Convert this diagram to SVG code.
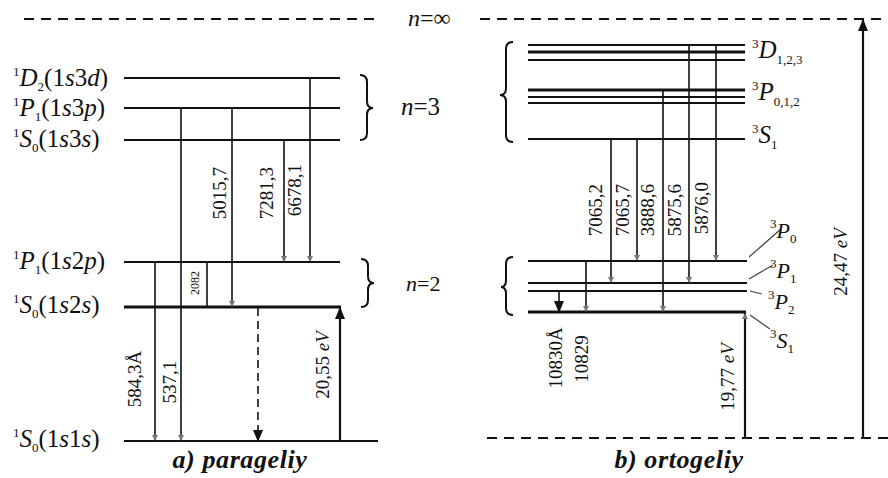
<svg xmlns="http://www.w3.org/2000/svg" width="888" height="478" viewBox="0 0 888 478">
<style>
text{font-family:"Liberation Serif","Times New Roman",serif;fill:#111}
.lab{font-size:25px}
.lab2{font-size:22px}
.it{font-style:italic}
.sup{font-size:13px}
.sub{font-size:13px}
.num{font-size:19px;text-anchor:middle}
.cap{font-size:26px;font-style:italic;font-weight:bold;text-anchor:middle;letter-spacing:0.6px}
.lvl{stroke:#111;stroke-width:2.2;fill:none}
.lvlb{stroke:#111;stroke-width:2.8;fill:none}
.tr{stroke:#111;stroke-width:1.6;fill:none}
.en{stroke:#111;stroke-width:2.2;fill:none}
.dash{stroke:#111;stroke-width:2.2;stroke-dasharray:10 7;fill:none}
.br{stroke:#111;stroke-width:2;fill:none}
.ld{stroke:#444;stroke-width:1.2;fill:none}
</style>
<defs>
<marker id="sm" markerUnits="userSpaceOnUse" markerWidth="7" markerHeight="7" refX="6" refY="3.5" orient="auto"><path d="M0,0.5 L6,3.5 L0,6.5 z" fill="#777"/></marker>
<marker id="big" markerUnits="userSpaceOnUse" markerWidth="12" markerHeight="10" refX="11" refY="5" orient="auto"><path d="M0,0 L12,5 L0,10 z" fill="#111"/></marker>
</defs>

<g id="limits">
<path class="dash" d="M24,19 H380"/>
<text x="408" y="26" class="lab" style="font-size:24px"><tspan class="it">n</tspan>=∞</text>
<path class="dash" d="M480,19 H888"/>
<path class="dash" d="M487,438 H888"/>
</g>

<g id="para-1D2"><path class="lvl" d="M124,78 H340"/>
<text x="13" y="86" class="lab"><tspan class="sup" dy="-10">1</tspan><tspan class="it" dy="10">D</tspan><tspan class="sub" dy="5">2</tspan><tspan dy="-5">(1</tspan><tspan class="it">s</tspan>3<tspan class="it">d</tspan>)</text></g>
<g id="para-1P1-3p"><path class="lvl" d="M124,108 H340"/>
<text x="13" y="116" class="lab"><tspan class="sup" dy="-10">1</tspan><tspan class="it" dy="10">P</tspan><tspan class="sub" dy="5">1</tspan><tspan dy="-5">(1</tspan><tspan class="it">s</tspan>3<tspan class="it">p</tspan>)</text></g>
<g id="para-1S0-3s"><path class="lvl" d="M124,140 H340"/>
<text x="13" y="147" class="lab"><tspan class="sup" dy="-10">1</tspan><tspan class="it" dy="10">S</tspan><tspan class="sub" dy="5">0</tspan><tspan dy="-5">(1</tspan><tspan class="it">s</tspan>3<tspan class="it">s</tspan>)</text></g>
<g id="para-1P1-2p"><path class="lvl" d="M124,262 H340"/>
<text x="13" y="269" class="lab"><tspan class="sup" dy="-10">1</tspan><tspan class="it" dy="10">P</tspan><tspan class="sub" dy="5">1</tspan><tspan dy="-5">(1</tspan><tspan class="it">s</tspan>2<tspan class="it">p</tspan>)</text></g>
<g id="para-1S0-2s"><path class="lvlb" d="M124,307 H341"/>
<text x="13" y="313" class="lab"><tspan class="sup" dy="-10">1</tspan><tspan class="it" dy="10">S</tspan><tspan class="sub" dy="5">0</tspan><tspan dy="-5">(1</tspan><tspan class="it">s</tspan>2<tspan class="it">s</tspan>)</text></g>
<g id="para-1S0-1s"><path class="lvl" d="M124,441 H378"/>
<text x="13" y="447" class="lab"><tspan class="sup" dy="-10">1</tspan><tspan class="it" dy="10">S</tspan><tspan class="sub" dy="5">0</tspan><tspan dy="-5">(1</tspan><tspan class="it">s</tspan>1<tspan class="it">s</tspan>)</text></g>

<g id="para-n3"><path class="br" d="M360,75 Q367,75 367,82 L367,101 Q367,108 373,108 Q367,108 367,115 L367,133 Q367,140 360,140"/>
<text x="401" y="115" class="lab"><tspan class="it">n</tspan>=3</text></g>
<g id="para-n2"><path class="br" d="M361,259 Q368,259 368,266 L368,276 Q368,283 374,283 Q368,283 368,290 L368,300 Q368,307 361,307"/>
<text x="406" y="291" class="lab2"><tspan class="it">n</tspan>=2</text></g>

<g id="orto-3D"><path class="lvl" d="M528,45 H745"/><path class="lvlb" d="M528,52 H745"/><path class="lvl" d="M528,60 H745"/>
<text x="752" y="58" class="lab"><tspan class="sup" dy="-10">3</tspan><tspan class="it" dy="10">D</tspan><tspan class="sub" dy="6">1,2,3</tspan></text></g>
<g id="orto-3P"><path class="lvlb" d="M528,90 H745"/><path class="lvl" d="M528,97 H745"/><path class="lvl" d="M528,103 H745"/>
<text x="752" y="100" class="lab"><tspan class="sup" dy="-10">3</tspan><tspan class="it" dy="10">P</tspan><tspan class="sub" dy="6">0,1,2</tspan></text></g>
<g id="orto-3S"><path class="lvl" d="M528,139 H745"/>
<text x="752" y="143" class="lab"><tspan class="sup" dy="-10">3</tspan><tspan class="it" dy="10">S</tspan><tspan class="sub" dy="6">1</tspan></text></g>
<g id="orto-n3"><path class="br" d="M513,42 Q506,42 506,49 L506,88 Q506,95 500,95 Q506,95 506,102 L506,135 Q506,142 513,142"/></g>

<g id="orto-2P0"><path class="lvl" d="M528,261 H747"/>
<path class="ld" d="M749,257 L781,229"/>
<text x="770" y="238" class="lab2"><tspan class="sup" dy="-10">3</tspan><tspan class="it" dy="10">P</tspan><tspan class="sub" dy="5">0</tspan></text></g>
<g id="orto-2P1"><path class="lvl" d="M528,283 H747"/>
<path class="ld" d="M749,279 L773,265"/>
<text x="770" y="278" class="lab2"><tspan class="sup" dy="-10">3</tspan><tspan class="it" dy="10">P</tspan><tspan class="sub" dy="5">1</tspan></text></g>
<g id="orto-2P2"><path class="lvl" d="M528,291 H747"/>
<path class="ld" d="M750,291 L762,294"/>
<text x="768" y="309" class="lab2"><tspan class="sup" dy="-10">3</tspan><tspan class="it" dy="10">P</tspan><tspan class="sub" dy="5">2</tspan></text></g>
<g id="orto-2S1"><path class="lvlb" d="M528,312 H746"/>
<path class="ld" d="M750,315 L770,329"/>
<text x="770" y="348" class="lab2"><tspan class="sup" dy="-10">3</tspan><tspan class="it" dy="10">S</tspan><tspan class="sub" dy="5">1</tspan></text></g>
<g id="orto-n2"><path class="br" d="M513,257 Q506,257 506,264 L506,280 Q506,287 501,287 Q506,287 506,294 L506,308 Q506,315 513,315"/></g>

<g id="connectors">
<path class="tr" d="M155,262 V441" marker-end="url(#sm)"/>
<path class="tr" d="M181,108 V441" marker-end="url(#sm)"/>
<path class="tr" d="M207,262 V307"/>
<path class="tr" d="M232,108 V307" marker-end="url(#sm)"/>
<path class="tr" d="M284,140 V262" marker-end="url(#sm)"/>
<path class="tr" d="M310,78 V262" marker-end="url(#sm)"/>
<path class="tr" d="M258,308 V441" stroke-dasharray="8 5" marker-end="url(#big)"/>
<path class="en" d="M340,441 V308" marker-end="url(#big)"/>

<path class="tr" d="M611,139 V283" marker-end="url(#sm)"/>
<path class="tr" d="M637,139 V261" marker-end="url(#sm)"/>
<path class="tr" d="M663,90 V312" marker-end="url(#sm)"/>
<path class="tr" d="M689,45 V283" marker-end="url(#sm)"/>
<path class="tr" d="M716,45 V261" marker-end="url(#sm)"/>
<path class="tr" d="M586,261 V312" marker-end="url(#sm)"/>
<path class="tr" d="M559,292 V312" marker-end="url(#big)"/>
<path class="en" d="M745,438 V313" marker-end="url(#sm)"/>
<path class="en" d="M863,438 V20" marker-end="url(#big)"/>

<text class="num" transform="translate(141,379) rotate(-90)">584,3Å</text>
<text class="num" transform="translate(176,382) rotate(-90)">537,1</text>
<text class="num" style="font-size:12px" transform="translate(199,283) rotate(-90)">2082</text>
<text class="num" transform="translate(329,365) rotate(-90)">20,55 <tspan class="it">eV</tspan></text>
<text class="num" transform="translate(226,193) rotate(-90)">5015,7</text>
<text class="num" transform="translate(273,193) rotate(-90)">7281,3</text>
<text class="num" transform="translate(301,190) rotate(-90)">6678,1</text>
<text class="num" transform="translate(602,210) rotate(-90)">7065,2</text>
<text class="num" transform="translate(629,210) rotate(-90)">7065,7</text>
<text class="num" transform="translate(654,210) rotate(-90)">3888,6</text>
<text class="num" transform="translate(681,210) rotate(-90)">5875,6</text>
<text class="num" transform="translate(708,208) rotate(-90)">5876,0</text>
<text class="num" transform="translate(562,358) rotate(-90)">10830Å</text>
<text class="num" transform="translate(588,359) rotate(-90)">10829</text>
<text class="num" transform="translate(734,377) rotate(-90)">19,77 <tspan class="it">eV</tspan></text>
<text class="num" transform="translate(847,262) rotate(-90)">24,47 <tspan class="it">eV</tspan></text>
</g>

<g id="captions">
<text class="cap" x="240" y="468">a) parageliy</text>
<text class="cap" x="679" y="468">b) ortogeliy</text>
</g>
</svg>
